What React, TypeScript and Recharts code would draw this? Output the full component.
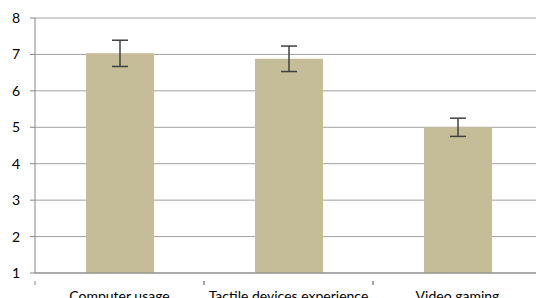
import { BarChart, Bar, XAxis, YAxis, CartesianGrid, ErrorBar } from "recharts";

const categories = ["Computer usage", "Tactile devices experience", "Video gaming"];
const means = [7.03, 6.88, 5.0];
const errors = [0.36, 0.35, 0.25];
const yTicks = [1, 2, 3, 4, 5, 6, 7, 8];

const data = categories.map((name, i) => ({ name, value: means[i], err: errors[i] }));

const CHART_W = 545;
const LEFT = 35;
const RIGHT = 3;
const BAND = (CHART_W - LEFT - RIGHT) / categories.length;
const FONT = "Lato, 'Open Sans', sans-serif";

function CategoryTick(props: any) {
  const { x, y, payload } = props;
  const left = x - BAND / 2;
  return (
    <g>
      <line x1={left} y1={y} x2={left} y2={y + 4} stroke="#868686" />
      <line x1={left + BAND} y1={y} x2={left + BAND} y2={y + 4} stroke="#868686" />
      <text x={x} y={y + 10} dy="0.71em" textAnchor="middle" fill="#000" fontSize={14} fontFamily={FONT}>
        {payload.value}
      </text>
    </g>
  );
}

export default function App() {
  return (
    <div style={{ position: "absolute", left: 0, top: 0, width: 536, height: 298, overflow: "hidden", background: "#fff" }}>
      <BarChart
        width={CHART_W}
        height={298}
        data={data}
        margin={{ top: 18, right: RIGHT, bottom: 0, left: 0 }}
        barCategoryGap={0}
      >
        <CartesianGrid vertical={false} stroke="#a0a0a0" />
        <XAxis
          dataKey="name"
          height={25}
          axisLine={{ stroke: "#868686" }}
          tickLine={false}
          interval={0}
          tick={<CategoryTick />}
        />
        <YAxis
          width={LEFT}
          domain={[1, 8]}
          ticks={yTicks}
          interval={0}
          axisLine={{ stroke: "#868686" }}
          tickLine={{ stroke: "#868686" }}
          tickSize={5}
          tickMargin={10}
          tick={{ fill: "#000", fontSize: 14, fontFamily: FONT }}
        />
        <Bar dataKey="value" fill="#c4bd97" barSize={68} isAnimationActive={false}>
          <ErrorBar dataKey="err" width={8} stroke="#404040" strokeWidth={1.5} />
        </Bar>
      </BarChart>
    </div>
  );
}
